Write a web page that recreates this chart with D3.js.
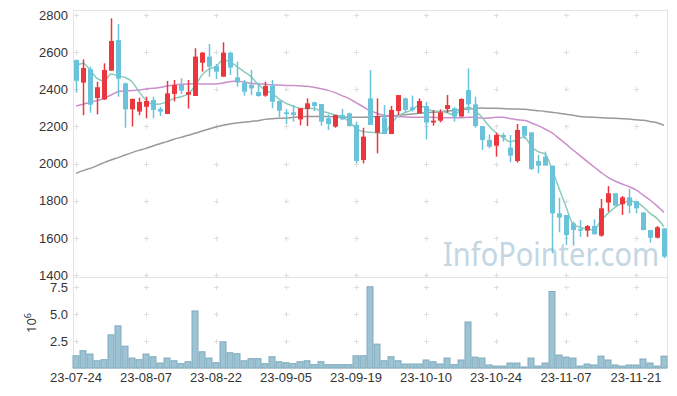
<!DOCTYPE html>
<html>
<head>
<meta charset="utf-8">
<script src="https://cdn.jsdelivr.net/npm/d3@7"></script>
<style>
  body { margin: 0; background: #fff; }
  svg { display: block; font-family: "Noto Sans", sans-serif; }
</style>
</head>
<body>
<svg width="677" height="396"></svg>
<script>
// trading days, 23-07-24 .. 23-11-27
const dates = [
  "23-07-24","23-07-25","23-07-26","23-07-27","23-07-28","23-07-31",
  "23-08-01","23-08-02","23-08-03","23-08-04","23-08-07","23-08-08","23-08-09","23-08-10","23-08-11",
  "23-08-14","23-08-16","23-08-17","23-08-18","23-08-21","23-08-22","23-08-23","23-08-24","23-08-25",
  "23-08-28","23-08-29","23-08-30","23-08-31",
  "23-09-01","23-09-04","23-09-05","23-09-06","23-09-07","23-09-08","23-09-11","23-09-12","23-09-13",
  "23-09-14","23-09-15","23-09-18","23-09-19","23-09-20","23-09-21","23-09-22","23-09-25","23-09-26","23-09-27",
  "23-10-04","23-10-05","23-10-06","23-10-10","23-10-11","23-10-12","23-10-13","23-10-16","23-10-17",
  "23-10-18","23-10-19","23-10-20","23-10-23","23-10-24","23-10-25","23-10-26","23-10-27","23-10-30","23-10-31",
  "23-11-01","23-11-02","23-11-03","23-11-06","23-11-07","23-11-08","23-11-09","23-11-10","23-11-13",
  "23-11-14","23-11-15","23-11-16","23-11-17","23-11-20","23-11-21","23-11-22","23-11-23","23-11-24","23-11-27"
];

const open = [2558,2436,2508,2353,2346,2500,2665,2432,2292,2280,2306,2342,2294,2267,2375,2423,2371,2364,2543,2576,
  2525,2468,2597,2464,2436,2425,2385,2366,2418,2337,2276,2276,2238,2294,2330,2321,2244,2199,2262,2271,
  2208,2019,2351,2166,2247,2159,2283,2351,2303,2271,2310,2221,2231,2294,2298,2253,2396,2319,2202,2127,
  2096,2154,2086,2014,2202,2168,2014,2037,1989,1732,1723,1678,1648,1639,1664,1612,1790,1840,1781,1818,
  1798,1737,1642,1601,1651];
const high = [2560,2561,2522,2441,2540,2782,2752,2436,2350,2355,2360,2360,2306,2445,2450,2459,2450,2621,2601,2644,
  2536,2653,2603,2549,2450,2504,2436,2441,2450,2340,2294,2315,2298,2351,2333,2321,2265,2262,2294,2274,
  2226,2193,2504,2351,2315,2310,2369,2355,2366,2351,2333,2289,2292,2369,2303,2351,2513,2360,2202,2157,
  2166,2166,2154,2213,2202,2168,2046,2064,1989,1816,1723,1687,1696,1669,1700,1809,1879,1840,1825,1863,
  1798,1737,1642,1664,1651];
const low = [2382,2260,2274,2265,2343,2500,2360,2193,2199,2260,2244,2244,2256,2267,2335,2375,2296,2364,2495,2468,
  2455,2468,2477,2414,2366,2369,2360,2360,2298,2249,2213,2226,2206,2202,2283,2204,2181,2193,2235,2199,
  2001,2001,2208,2055,2159,2159,2262,2271,2280,2267,2130,2204,2222,2274,2226,2253,2271,2193,2073,2082,
  2037,2118,2007,2005,2132,1965,1947,1989,1517,1630,1562,1558,1606,1606,1619,1606,1741,1773,1723,1732,
  1732,1642,1574,1597,1490];
const close = [2446,2515,2317,2411,2504,2660,2457,2292,2348,2332,2337,2289,2280,2378,2423,2393,2385,2576,2597,2522,
  2495,2597,2517,2437,2387,2405,2364,2418,2333,2285,2267,2262,2298,2324,2310,2226,2213,2262,2238,2202,
  2014,2145,2208,2256,2159,2289,2369,2289,2289,2337,2221,2231,2276,2315,2253,2348,2319,2202,2127,2091,
  2154,2141,2043,2181,2150,1971,1989,1989,1732,1709,1615,1642,1639,1664,1619,1759,1840,1773,1818,1773,
  1759,1642,1601,1657,1499];

// moving averages
const ma5 = [2525,2540,2504,2459,2445,2482,2472,2464,2441,2387,2342,2319,2321,2333,2351,2360,2375,2418,2477,2508,
  2522,2558,2549,2522,2495,2468,2427,2396,2378,2348,2324,2310,2297,2296,2297,2283,2274,2262,2253,2226,
  2190,2172,2168,2166,2163,2213,2256,2274,2289,2314,2298,2283,2280,2274,2262,2289,2303,2285,2249,2202,
  2166,2141,2118,2127,2145,2095,2064,2052,1969,1867,1768,1675,1657,1648,1642,1693,1732,1764,1786,1798,
  1793,1768,1732,1705,1660];
const ma20 = [2310,2319,2330,2339,2350,2369,2387,2391,2393,2396,2402,2405,2409,2418,2423,2427,2429,2430,2429,2429,
  2429,2434,2441,2445,2439,2432,2429,2427,2423,2423,2421,2420,2418,2416,2411,2403,2394,2382,2366,2350,
  2328,2306,2285,2271,2260,2256,2253,2251,2249,2249,2249,2249,2247,2247,2247,2247,2249,2249,2244,2245,
  2249,2249,2242,2236,2233,2220,2204,2186,2165,2136,2105,2073,2043,2012,1983,1953,1926,1906,1890,1876,
  1858,1831,1804,1772,1737];
const ma60 = [1947,1962,1974,1989,2005,2019,2032,2046,2059,2071,2082,2095,2107,2118,2131,2141,2152,2163,2175,2186,
  2197,2206,2213,2219,2222,2227,2231,2238,2242,2244,2245,2249,2251,2253,2253,2253,2253,2251,2249,2249,
  2249,2249,2251,2253,2254,2256,2260,2263,2267,2271,2274,2276,2280,2283,2287,2290,2294,2297,2299,2298,
  2298,2296,2294,2294,2292,2289,2285,2281,2276,2271,2265,2260,2254,2251,2249,2247,2245,2244,2242,2240,
  2236,2233,2227,2220,2206];

// volume, millions of shares
const volume = [1.13,1.60,1.29,0.67,0.77,3.07,3.90,2.02,0.92,0.77,1.29,1.04,0.46,0.92,0.67,0.40,0.58,5.28,1.50,0.92,
  0.49,2.42,1.41,1.32,0.67,0.86,0.86,0.40,1.04,0.58,0.49,0.40,0.58,0.67,0.31,0.58,0.31,0.31,0.31,0.31,
  1.13,1.13,7.52,2.21,0.67,1.04,0.67,0.37,0.37,0.37,0.74,0.58,0.37,0.92,0.31,0.74,4.26,1.01,0.92,0.28,
  0.18,0.18,0.46,0.46,0.09,0.92,0.18,0.46,7.08,1.20,1.01,0.92,0.18,0.37,0.28,1.10,0.74,0.28,0.18,0.28,
  0.28,0.83,0.46,0.18,1.10];

const priceTicks = [1400,1600,1800,2000,2200,2400,2600,2800];
const volTicks = [2.5,5.0,7.5];
const tickIdx = d3.range(0, dates.length, 10);

const svg = d3.select("svg");
const left = 73, right = 667, plotTop = 10, sep = 277, bottom = 368;

const idx = d3.range(dates.length);
const xv = d3.scaleBand().domain(idx).range([left - 0.5, right + 0.5]);
const cx = i => xv(i) + xv.bandwidth() / 2;

const y = d3.scaleLinear().domain([1400, 2800]).range([275, 15]);
const yv = d3.scaleLinear().domain([0, 7.5]).range([bottom, 287]);

// frame
const frame = svg.append("g").attr("stroke", "#e3e3e3").attr("fill", "none");
frame.append("line").attr("x1", left).attr("x2", right).attr("y1", plotTop + 0.5).attr("y2", plotTop + 0.5);
frame.append("line").attr("x1", left).attr("x2", right).attr("y1", sep + 0.5).attr("y2", sep + 0.5);
frame.append("line").attr("x1", left).attr("x2", right).attr("y1", bottom + 0.5).attr("y2", bottom + 0.5);
frame.append("line").attr("x1", left + 0.5).attr("x2", left + 0.5).attr("y1", plotTop).attr("y2", bottom);
frame.append("line").attr("x1", right + 0.5).attr("x2", right + 0.5).attr("y1", plotTop).attr("y2", bottom);

// grid crosses
const crossY = priceTicks.map(y).concat(volTicks.map(yv));
const cross = svg.append("g").attr("stroke", "#dedede").attr("stroke-width", 1);
tickIdx.forEach(i => {
  crossY.forEach(py => {
    const px = Math.round(cx(i)) + 0.5, pyy = Math.round(py) + 0.5;
    cross.append("line").attr("x1", px - 2.5).attr("x2", px + 2.5).attr("y1", pyy).attr("y2", pyy);
    cross.append("line").attr("x1", px).attr("x2", px).attr("y1", pyy - 2.5).attr("y2", pyy + 2.5);
  });
});

// watermark
svg.append("text")
  .attr("x", 443).attr("y", 266)
  .attr("textLength", 216).attr("lengthAdjust", "spacingAndGlyphs")
  .style("font-family", "'Noto Sans', sans-serif")
  .style("font-size", "32px")
  .attr("fill", "#c3d6e3")
  .text("InfoPointer.com");

// price axis labels
const yAxis = d3.axisLeft(y).tickValues(priceTicks).tickSize(0).tickPadding(5).tickFormat(d3.format("d"));
svg.append("g").attr("transform", `translate(${left},0)`).call(yAxis)
  .call(g => g.select(".domain").remove())
  .selectAll("text").style("font-size", "13px").attr("fill", "#333");

const vAxis = d3.axisLeft(yv).tickValues(volTicks).tickSize(0).tickPadding(5).tickFormat(d3.format(".1f"));
svg.append("g").attr("transform", `translate(${left},0)`).call(vAxis)
  .call(g => g.select(".domain").remove())
  .selectAll("text").style("font-size", "13px").attr("fill", "#333");

const unit = svg.append("text")
  .attr("transform", "translate(36,323) rotate(-90)")
  .attr("text-anchor", "middle")
  .style("font-size", "13px").attr("fill", "#333");
unit.append("tspan").text("10");
unit.append("tspan").attr("dy", -5).style("font-size", "9px").text("6");

// x axis labels
const xAxis = d3.axisBottom(xv).tickValues(tickIdx).tickSize(0).tickPadding(5).tickFormat(i => dates[i]);
svg.append("g").attr("transform", `translate(0,${bottom})`).call(xAxis)
  .call(g => g.select(".domain").remove())
  .selectAll("text").style("font-size", "13px").attr("fill", "#333");

// volume bars
svg.append("g").selectAll("rect").data(idx).join("rect")
  .attr("x", i => xv(i) + 0.5)
  .attr("width", xv.bandwidth() - 1)
  .attr("y", i => yv(volume[i]))
  .attr("height", i => bottom - yv(volume[i]))
  .attr("fill", "#9dc3d3")
  .attr("stroke", "#7eaabd")
  .attr("stroke-width", 1);

// moving averages
const line = arr => d3.line().x((d, i) => cx(i)).y(d => y(d)).curve(d3.curveMonotoneX)(arr);
svg.append("path").attr("d", line(ma60)).attr("fill", "none").attr("stroke", "#999").attr("stroke-width", 1.5);
svg.append("path").attr("d", line(ma20)).attr("fill", "none").attr("stroke", "#cc8fcb").attr("stroke-width", 1.5);
svg.append("path").attr("d", line(ma5)).attr("fill", "none").attr("stroke", "#8acbbd").attr("stroke-width", 1.5);

// candles
const up = "#ec363e", down = "#6ac3d9";
const col = i => close[i] >= open[i] ? up : down;
const candles = svg.append("g");
candles.selectAll("line").data(idx).join("line")
  .attr("x1", i => Math.round(cx(i)) + 0.5)
  .attr("x2", i => Math.round(cx(i)) + 0.5)
  .attr("y1", i => y(high[i]))
  .attr("y2", i => y(low[i]))
  .attr("stroke", col)
  .attr("stroke-width", 1.5);
candles.selectAll("rect").data(idx).join("rect")
  .attr("x", i => Math.round(cx(i)) + 0.5 - 2.5)
  .attr("width", 5)
  .attr("y", i => y(Math.max(open[i], close[i])))
  .attr("height", i => Math.max(1, Math.abs(y(open[i]) - y(close[i]))))
  .attr("fill", col);
</script>
</body>
</html>
